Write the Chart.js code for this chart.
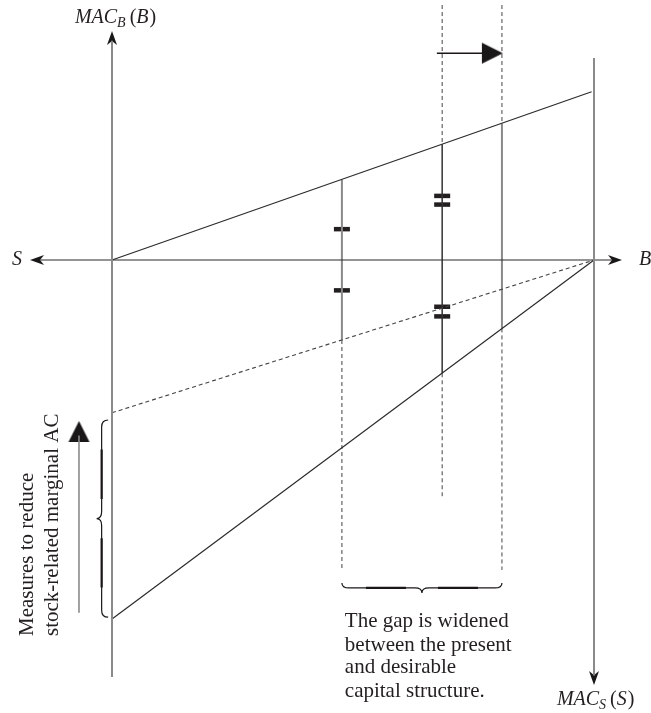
<!DOCTYPE html>
<html>
<head>
<meta charset="utf-8">
<script src="https://cdn.jsdelivr.net/npm/chart.js@4"></script>
<style>
  html, body { margin: 0; padding: 0; background: #fff; }
  #wrap { width: 651px; height: 713px; }
</style>
</head>
<body>
<div id="wrap"><canvas id="diagram" width="651" height="713"></canvas></div>
<script>
// diagram units: 0 = MAC_B axis, 100 = MAC_S axis, 0 on the S-B line, up is positive
const LINE_X = [0, 99.5];
const MAC_B_Y = [0, 34.9];
const MAC_S_OLD_Y = [-31.7, 0];     // before the measures (dashed)
const MAC_S_NEW_Y = [-74.5, 0];     // after the measures

// present / crossing / desirable capital structure
const STRUCT_X = [47.7, 68.5, 80.9];
const STRUCT_TOP = [16.7, 24.0, 28.3];
const STRUCT_BOTTOM = [-16.6, -23.5, -14.2];
const GUIDE_TOP = [null, 52.9, 52.9];
const GUIDE_BOTTOM = [-64.3, -49.0, -64.3];
const STRUCT_COLOR = ['#8a8a8a', '#333333', '#8a8a8a'];

// equality marks on the vertical lines
const MARK_X = [47.7, 47.7, 68.5, 68.5, 68.5, 68.5];
const MARK_Y = [6.4, -6.3, 13.3, 11.5, -9.7, -11.7];

const AXIS_B = [-17.0, 105.8];
const AXIS_LEFT = [-86.5, 47.5];
const AXIS_RIGHT = [41.9, -88.2];

const SHIFT_ARROW = { x: [67.4, 81.1], y: 42.9 };
const MEASURE_ARROW = { x: -6.85, y: [-73.2, -33.4] };

const NOTE_LINES = ['The gap is widened', 'between the present', 'and desirable', 'capital structure.'];
const SIDE_LINES = ['Measures to reduce', 'stock-related marginal AC'];

function head(len, half, notch) {
    const c = document.createElement('canvas');
    c.width = Math.ceil(half * 2 + 2);
    c.height = Math.ceil(len * 2 + 2);
    const g = c.getContext('2d');
    const cx = c.width / 2, cy = c.height / 2;
    g.fillStyle = '#1a1718';
    g.beginPath();
    g.moveTo(cx, cy);
    g.lineTo(cx + half, cy + len);
    g.lineTo(cx, cy + len - notch);
    g.lineTo(cx - half, cy + len);
    g.closePath();
    g.fill();
    return c;
}

const axisHead = head(14, 5, 4);
const bigHead = head(21, 10.5, 0);

function seg(points, color, width, dash) {
    return {
        data: points,
        showLine: true,
        borderColor: color,
        borderWidth: width,
        borderDash: dash || [],
        pointRadius: 0,
        fill: false
    };
}

function arrow(x, y, style, rot) {
    return {
        data: [{ x: x, y: y }],
        showLine: false,
        pointStyle: style,
        pointRotation: rot,
        pointRadius: 5,
        pointBackgroundColor: '#1a1718',
        pointBorderWidth: 0
    };
}

const DASH = [4, 3];
const datasets = [];

datasets.push(seg([{ x: 0, y: AXIS_LEFT[0] }, { x: 0, y: AXIS_LEFT[1] - 2 }], '#8a8a8a', 2));
datasets.push(seg([{ x: 100, y: AXIS_RIGHT[0] }, { x: 100, y: AXIS_RIGHT[1] + 2 }], '#8a8a8a', 2));
datasets.push(seg([{ x: AXIS_B[0] + 2, y: 0 }, { x: AXIS_B[1] - 2, y: 0 }], '#2b2b2b', 1.2));

datasets.push(seg([{ x: LINE_X[0], y: MAC_B_Y[0] }, { x: LINE_X[1], y: MAC_B_Y[1] }], '#2b2b2b', 1.2));
datasets.push(seg([{ x: 0, y: MAC_S_OLD_Y[0] }, { x: 100, y: MAC_S_OLD_Y[1] }], '#444', 1.1, DASH));
datasets.push(seg([{ x: 0, y: MAC_S_NEW_Y[0] }, { x: 100, y: MAC_S_NEW_Y[1] }], '#2b2b2b', 1.2));

STRUCT_X.forEach((x, i) => {
    datasets.push(seg([{ x: x, y: STRUCT_TOP[i] }, { x: x, y: STRUCT_BOTTOM[i] }], STRUCT_COLOR[i], i === 1 ? 1.5 : 2));
    if (GUIDE_TOP[i] !== null) {
        datasets.push(seg([{ x: x, y: GUIDE_TOP[i] }, { x: x, y: STRUCT_TOP[i] }], '#444', 1, DASH));
    }
    datasets.push(seg([{ x: x, y: STRUCT_BOTTOM[i] }, { x: x, y: GUIDE_BOTTOM[i] }], '#444', 1, DASH));
});

MARK_X.forEach((x, i) => {
    datasets.push(seg([{ x: x - 1.66, y: MARK_Y[i] }, { x: x + 1.66, y: MARK_Y[i] }], '#231f20', 4.5));
});

datasets.push(seg([{ x: SHIFT_ARROW.x[0], y: SHIFT_ARROW.y }, { x: SHIFT_ARROW.x[1] - 3, y: SHIFT_ARROW.y }], '#1a1718', 1.5));
datasets.push(seg([{ x: MEASURE_ARROW.x, y: MEASURE_ARROW.y[0] }, { x: MEASURE_ARROW.x, y: MEASURE_ARROW.y[1] - 3 }], '#8a8a8a', 1.6));

datasets.push(arrow(0, AXIS_LEFT[1], axisHead, 0));
datasets.push(arrow(100, AXIS_RIGHT[1], axisHead, 180));
datasets.push(arrow(AXIS_B[0], 0, axisHead, 270));
datasets.push(arrow(AXIS_B[1], 0, axisHead, 90));
datasets.push(arrow(SHIFT_ARROW.x[1], SHIFT_ARROW.y, bigHead, 90));
datasets.push(arrow(MEASURE_ARROW.x, MEASURE_ARROW.y[1], bigHead, 0));

function brace(ctx, x1, y1, x2, y2, h, d) {
    const L = Math.hypot(x2 - x1, y2 - y1);
    const q = 7;
    ctx.save();
    ctx.translate(x1, y1);
    ctx.rotate(Math.atan2(y2 - y1, x2 - x1));
    ctx.strokeStyle = '#1a1718';
    ctx.lineWidth = 1.2;
    ctx.beginPath();
    ctx.moveTo(0, 0);
    ctx.quadraticCurveTo(0, h, q, h);
    ctx.lineTo(L / 2 - q, h);
    ctx.quadraticCurveTo(L / 2, h, L / 2, d);
    ctx.quadraticCurveTo(L / 2, h, L / 2 + q, h);
    ctx.lineTo(L - q, h);
    ctx.quadraticCurveTo(L, h, L, 0);
    ctx.stroke();
    ctx.lineWidth = 2.2;
    ctx.beginPath();
    ctx.moveTo(L * 0.15, h); ctx.lineTo(L * 0.4, h);
    ctx.moveTo(L * 0.6, h); ctx.lineTo(L * 0.85, h);
    ctx.stroke();
    ctx.restore();
}

function macLabel(ctx, x, y, sub, arg) {
    ctx.textBaseline = 'middle';
    ctx.textAlign = 'left';
    ctx.font = 'italic 20px "Liberation Serif"';
    ctx.fillText('MAC', x, y);
    let cx = x + ctx.measureText('MAC').width;
    ctx.font = 'italic 14px "Liberation Serif"';
    ctx.fillText(sub, cx, y + 5);
    cx += ctx.measureText(sub).width + 4;
    ctx.font = '20px "Liberation Serif"';
    ctx.fillText('(', cx, y);
    cx += ctx.measureText('(').width;
    ctx.font = 'italic 20px "Liberation Serif"';
    ctx.fillText(arg, cx, y);
    cx += ctx.measureText(arg).width + 1;
    ctx.font = '20px "Liberation Serif"';
    ctx.fillText(')', cx, y);
}

const annotations = {
    id: 'annotations',
    afterDatasetsDraw(chart) {
        const ctx = chart.ctx;
        const px = v => chart.scales.x.getPixelForValue(v);
        const py = v => chart.scales.y.getPixelForValue(v);
        ctx.save();
        ctx.fillStyle = '#231f20';

        brace(ctx, px(STRUCT_X[0]), py(-67.0), px(STRUCT_X[2]), py(-67.0), 5, 10);
        brace(ctx, px(-0.8), py(-33.2), px(-0.8), py(-74.1), 6.5, 11.5);

        macLabel(ctx, px(-7.7), py(50.2), 'B', 'B');
        macLabel(ctx, px(92.3), py(-91.3), 'S', 'S');

        ctx.font = 'italic 20px "Liberation Serif"';
        ctx.textAlign = 'center';
        ctx.textBaseline = 'middle';
        ctx.fillText('S', px(-19.7), py(0));
        ctx.fillText('B', px(110.6), py(0));

        ctx.font = '21px "Liberation Serif"';
        ctx.textAlign = 'left';
        const noteY = [-75.1, -79.9, -84.6, -89.6];
        NOTE_LINES.forEach((t, i) => ctx.fillText(t, px(48.3), py(noteY[i])));

        const sideX = [-17.6, -12.4];
        SIDE_LINES.forEach((t, i) => {
            ctx.save();
            ctx.translate(px(sideX[i]), py(-78.0));
            ctx.rotate(-Math.PI / 2);
            ctx.fillText(t, 0, 0);
            ctx.restore();
        });
        ctx.restore();
    }
};

const k = 4.82;
new Chart(document.getElementById('diagram'), {
    type: 'scatter',
    data: { datasets: datasets },
    options: {
        responsive: false,
        animation: false,
        events: [],
        layout: { padding: 0, autoPadding: false },
        plugins: { legend: { display: false }, tooltip: { enabled: false } },
        scales: {
            x: { type: 'linear', display: false, min: -112 / k, max: 539 / k },
            y: { type: 'linear', display: false, min: -453 / k, max: 260 / k }
        }
    },
    plugins: [annotations]
});
</script>
</body>
</html>
